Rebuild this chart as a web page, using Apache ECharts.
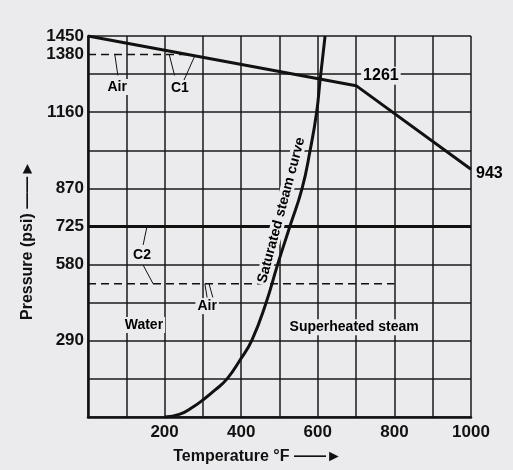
<!DOCTYPE html>
<html>
<head>
    <meta charset="utf-8">
    <title>Pressure vs Temperature</title>
    <script src="https://cdn.jsdelivr.net/npm/echarts@6/dist/echarts.min.js"></script>
    <style>
        html, body { margin: 0; padding: 0; background: #ebebed; }
    </style>
</head>
<body>
<div id="chart" style="width: 513px;height:470px;"></div>
<script>
    // tick labels
    var xLabels = [200, 400, 600, 800, 1000];
    var yLabels = [290, 580, 725, 870, 1160, 1380, 1450];

    // C1 line (temperature °F, pressure psi)
    var c1Temp = [0, 700, 1000];
    var c1Psi = [1450, 1261, 943];
    // C2 line
    var c2Temp = [0, 1000];
    var c2Psi = [725, 725];
    // air lines (dashed)
    var air1Temp = [0, 270];
    var air1Psi = [1380, 1380];
    var air2Temp = [0, 800];
    var air2Psi = [507, 507];
    // saturated steam curve
    var satTemp = [200, 240, 274, 300, 332, 363, 397, 428, 465, 495, 527, 559, 580, 597, 606, 619];
    var satPsi = [0, 11, 38, 65, 103, 145, 217, 293, 435, 580, 725, 870, 1015, 1160, 1282, 1450];

    // text notes
    var noteText = ['Air', 'C1', 'C2', 'Air', 'Water', 'Superheated steam'];
    var noteTemp = [76, 240, 141, 311, 146, 695];
    var notePsi = [1256, 1252, 616, 422, 350, 342];

    // leader lines: [temp1, psi1, temp2, psi2]
    var leaders = [
        [70, 1380, 78, 1300],
        [212, 1380, 226, 1300],
        [279, 1375, 250, 1280],
        [154, 725, 144, 655],
        [144, 578, 170, 507],
        [305, 507, 311, 455],
        [316, 507, 326, 455]
    ];

    var bg = '#ebebed';
    var font = 'Liberation Sans';

    function zip(a, b) {
        var r = [];
        for (var i = 0; i < a.length; i++) r.push([a[i], b[i]]);
        return r;
    }
    var leaderData = [];
    leaders.forEach(function (s, i) {
        if (i > 0) leaderData.push(null);
        leaderData.push([s[0], s[1]], [s[2], s[3]]);
    });
    var notes = [];
    for (var i = 0; i < noteText.length; i++) {
        notes.push({name: noteText[i], value: [noteTemp[i], notePsi[i]]});
    }
    var textStyle = {
        fontFamily: font, fontWeight: 'bold', color: '#000',
        textBorderWidth: 0, opacity: 1, backgroundColor: bg
    };
    var numStyle = {fontFamily: font, fontWeight: 'bold', fontSize: 17, color: '#111'};

    var myChart = echarts.init(document.getElementById('chart'));
    var option = {
        backgroundColor: bg,
        animation: false,
        grid: {left: 88, right: 42, top: 36, bottom: 53},
        xAxis: {
            type: 'value', min: 0, max: 1000, interval: 100,
            name: 'Temperature °F ——►',
            nameLocation: 'middle', nameGap: 32,
            nameTextStyle: {fontFamily: font, fontWeight: 'bold', fontSize: 16, color: '#111', padding: [0, 44, 0, 0]},
            axisLine: {show: true, lineStyle: {color: '#111', width: 2.5}},
            axisTick: {show: false},
            axisLabel: Object.assign({customValues: xLabels, margin: 7, formatter: function (v) { return String(v); }}, numStyle),
            splitLine: {show: true, lineStyle: {color: '#1a1a1a', width: 1.5}}
        },
        yAxis: {
            type: 'value', min: 0, max: 1450, interval: 145,
            name: 'Pressure (psi) ——►',
            nameLocation: 'middle', nameGap: 46, nameRotate: 90,
            nameTextStyle: {fontFamily: font, fontWeight: 'bold', fontSize: 16, color: '#111', padding: [0, 28, 0, 0]},
            axisLine: {show: true, lineStyle: {color: '#111', width: 2.5}},
            axisTick: {show: false},
            axisLabel: Object.assign({customValues: yLabels, margin: 4, formatter: function (v) { return String(v); }}, numStyle),
            splitLine: {show: true, lineStyle: {color: '#1a1a1a', width: 1.5}}
        },
        series: [
            {
                type: 'line', data: zip(air1Temp, air1Psi), symbol: 'none',
                lineStyle: {color: '#111', width: 1.5, type: [8, 5]}
            },
            {
                type: 'line', data: zip(air2Temp, air2Psi), symbol: 'none',
                lineStyle: {color: '#111', width: 1.5, type: [8, 5]}
            },
            {
                type: 'line', data: zip(c2Temp, c2Psi), symbol: 'none',
                lineStyle: {color: '#111', width: 3}
            },
            {
                type: 'line', data: leaderData, symbol: 'none', connectNulls: false,
                lineStyle: {color: '#111', width: 1}
            },
            {
                type: 'line', symbol: 'none', data: zip(c1Temp, c1Psi),
                lineStyle: {color: '#111', width: 3}
            },
            {
                // value labels at the C1 bend and end
                type: 'scatter', symbolSize: 0, z: 5,
                itemStyle: {opacity: 1, color: '#000'},
                data: zip(c1Temp, c1Psi).slice(1),
                label: Object.assign({
                    show: true, position: 'right', fontSize: 16, padding: [1, 2],
                    formatter: function (p) { return String(p.value[1]); }
                }, textStyle),
                labelLayout: function (p) {
                    return p.dataIndex === 0 ? {dx: 0, dy: -10} : {dx: -2, dy: 4};
                }
            },
            {
                type: 'line', data: zip(satTemp, satPsi), symbol: 'none',
                smooth: 0.5,
                lineStyle: {color: '#111', width: 3}
            },
            {
                type: 'scatter', symbolSize: 0, data: notes, z: 5,
                itemStyle: {opacity: 1, color: '#000'},
                label: Object.assign({
                    show: true, position: 'inside', formatter: '{b}', fontSize: 14, padding: [1, 2]
                }, textStyle)
            },
            {
                type: 'scatter', symbolSize: 0, z: 5,
                itemStyle: {opacity: 1, color: '#000'},
                data: [{name: 'Saturated steam curve', value: [505, 787]}],
                label: Object.assign({
                    show: true, position: 'inside', formatter: '{b}', rotate: 75, fontSize: 14, padding: [0, 2]
                }, textStyle)
            }
        ]
    };
    myChart.setOption(option);
</script>
</body>
</html>
